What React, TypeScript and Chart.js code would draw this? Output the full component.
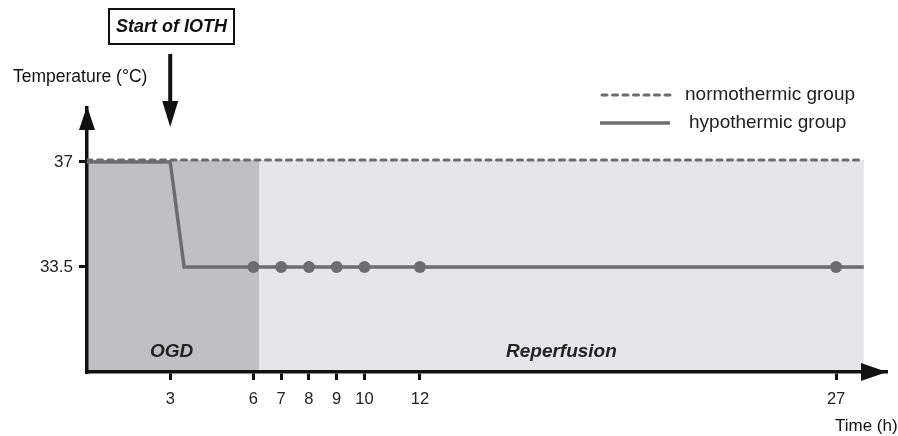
import React, { useEffect, useRef } from "react";
import { Chart, registerables } from "chart.js";

Chart.register(...registerables);

const xTicks = [3, 6, 7, 8, 9, 10, 12, 27];
const yTicks = [33.5, 37];
const hypoX = [0, 3, 3.5, 6, 7, 8, 9, 10, 12, 27, 28];
const hypoY = [37, 37, 33.5, 33.5, 33.5, 33.5, 33.5, 33.5, 33.5, 33.5, 33.5];
const hypoMarked = [false, false, false, true, true, true, true, true, true, true, false];
const normoX = [0, 28];
const normoY = [37.07, 37.07];
const phaseNames = ["OGD", "Reperfusion"];
const phaseStart = [0, 6.2];
const phaseEnd = [6.2, 28];
const seriesNames = ["normothermic group", "hypothermic group"];

const FONT = "'Liberation Sans', Arial, sans-serif";
const LINE = "#6d6d6f";
const PHASE_COLORS = ["#c0c0c2", "#e6e6e8"];

function arrowHead(ctx: CanvasRenderingContext2D, tipX: number, tipY: number, dir: "up" | "down" | "right", len: number, half: number) {
  ctx.beginPath();
  if (dir === "up") {
    ctx.moveTo(tipX, tipY);
    ctx.lineTo(tipX - half, tipY + len);
    ctx.lineTo(tipX + half, tipY + len);
  } else if (dir === "down") {
    ctx.moveTo(tipX, tipY);
    ctx.lineTo(tipX - half, tipY - len);
    ctx.lineTo(tipX + half, tipY - len);
  } else {
    ctx.moveTo(tipX, tipY);
    ctx.lineTo(tipX - len, tipY - half);
    ctx.lineTo(tipX - len, tipY + half);
  }
  ctx.closePath();
  ctx.fill();
}

const decorPlugin = {
  id: "decor",
  beforeDraw(chart: any) {
    const { ctx, chartArea } = chart;
    const xs = chart.scales.x;
    const ys = chart.scales.y;
    ctx.save();
    const top = ys.getPixelForValue(normoY[0]);
    for (let i = 0; i < phaseNames.length; i++) {
      const x0 = xs.getPixelForValue(phaseStart[i]);
      const x1 = xs.getPixelForValue(phaseEnd[i]);
      ctx.fillStyle = PHASE_COLORS[i];
      ctx.fillRect(x0, top, x1 - x0, chartArea.bottom - top);
    }
    ctx.restore();
  },
  afterDraw(chart: any) {
    const { ctx, chartArea } = chart;
    const xs = chart.scales.x;
    ctx.save();
    // axes arrow heads
    ctx.fillStyle = "#111";
    arrowHead(ctx, chartArea.left, chartArea.top - 2, "up", 24, 8);
    arrowHead(ctx, chartArea.right + 1, chartArea.bottom, "right", 26, 9);
    // phase labels
    ctx.fillStyle = "#222";
    ctx.font = `italic bold 19px ${FONT}`;
    ctx.textAlign = "center";
    ctx.textBaseline = "middle";
    const labelY = chartArea.bottom - 20;
    for (let i = 0; i < phaseNames.length; i++) {
      const cx = i === 0 ? xs.getPixelForValue(3.05) : (xs.getPixelForValue(phaseStart[i]) + xs.getPixelForValue(phaseEnd[i])) / 2;
      ctx.fillText(phaseNames[i], cx, labelY);
    }
    // start box
    const sx = xs.getPixelForValue(3);
    ctx.strokeStyle = "#111";
    ctx.lineWidth = 2;
    ctx.fillStyle = "#fff";
    ctx.fillRect(109, 9, 125, 35);
    ctx.strokeRect(109, 9, 125, 35);
    ctx.fillStyle = "#111";
    ctx.font = `italic bold 18px ${FONT}`;
    ctx.fillText("Start of IOTH", 171.5, 27);
    // down arrow
    ctx.lineWidth = 4;
    ctx.beginPath();
    ctx.moveTo(sx, 54);
    ctx.lineTo(sx, 104);
    ctx.stroke();
    arrowHead(ctx, sx, 127, "down", 26, 8);
    // axis titles
    ctx.font = `17.5px ${FONT}`;
    ctx.textAlign = "left";
    ctx.fillText("Temperature (°C)", 13, 77);
    ctx.font = `17px ${FONT}`;
    ctx.fillText("Time (h)", 835, 426);
    // legend
    ctx.strokeStyle = LINE;
    ctx.lineWidth = 3;
    ctx.lineCap = "round";
    ctx.setLineDash([5, 5.5]);
    ctx.beginPath();
    ctx.moveTo(602, 95);
    ctx.lineTo(670, 95);
    ctx.stroke();
    ctx.setLineDash([]);
    ctx.lineCap = "butt";
    ctx.lineWidth = 3.5;
    ctx.beginPath();
    ctx.moveTo(600, 123);
    ctx.lineTo(670, 123);
    ctx.stroke();
    ctx.fillStyle = "#222";
    ctx.font = `19px ${FONT}`;
    ctx.fillText(seriesNames[0], 685, 95);
    ctx.fillText(seriesNames[1], 689, 123);
    ctx.restore();
  },
};

export default function App() {
  const ref = useRef<HTMLCanvasElement | null>(null);
  useEffect(() => {
    document.body.style.margin = "0";
    if (!ref.current) return;
    const chart = new Chart(ref.current, {
      type: "scatter",
      data: {
        datasets: [
          {
            label: seriesNames[0],
            data: normoX.map((x, i) => ({ x, y: normoY[i] })),
            showLine: true,
            borderColor: LINE,
            borderWidth: 3,
            borderDash: [5, 5.5],
            borderCapStyle: "round",
            pointRadius: 0,
            fill: false,
          },
          {
            label: seriesNames[1],
            data: hypoX.map((x, i) => ({ x, y: hypoY[i] })),
            showLine: true,
            borderColor: LINE,
            borderWidth: 3.5,
            pointRadius: hypoMarked.map((m) => (m ? 6 : 0)),
            pointBackgroundColor: LINE,
            pointBorderWidth: 0,
            pointBorderColor: LINE,
            fill: false,
          },
        ],
      },
      options: {
        responsive: false,
        animation: false,
        layout: { padding: { top: 108, right: 12, left: 0, bottom: 0 } },
        plugins: { legend: { display: false }, tooltip: { enabled: false } },
        scales: {
          x: {
            type: "linear",
            min: 0,
            max: 28.8,
            afterBuildTicks: (s: any) => {
              s.ticks = xTicks.map((v) => ({ value: v }));
            },
            afterFit: (s: any) => {
              s.height = 64;
            },
            border: { display: true, color: "#111", width: 3.5 },
            grid: { display: true, drawOnChartArea: false, drawTicks: true, tickLength: 8, color: "#111", lineWidth: 3 },
            ticks: { color: "#222", font: { family: FONT, size: 16.5 }, padding: 10, autoSkip: false, maxRotation: 0 },
          },
          y: {
            type: "linear",
            min: 30,
            max: 38.8,
            afterBuildTicks: (s: any) => {
              s.ticks = yTicks.map((v) => ({ value: v }));
            },
            afterFit: (s: any) => {
              s.width = 87;
            },
            border: { display: true, color: "#111", width: 3.5 },
            grid: { display: true, drawOnChartArea: false, drawTicks: true, tickLength: 8, color: "#111", lineWidth: 3 },
            ticks: { color: "#222", font: { family: FONT, size: 17 }, padding: 6, autoSkip: false, callback: (v: any) => String(v) },
          },
        },
      },
      plugins: [decorPlugin],
    } as any);
    return () => chart.destroy();
  }, []);
  return <canvas ref={ref} width={898} height={436} style={{ display: "block" }} />;
}
